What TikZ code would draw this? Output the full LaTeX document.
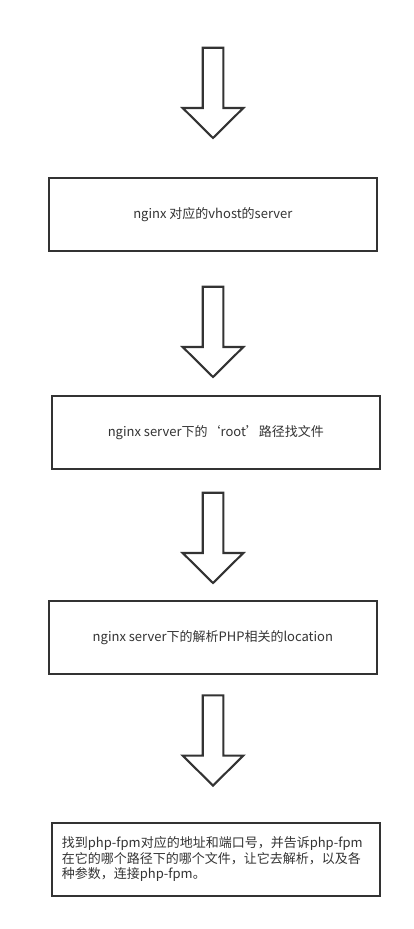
\documentclass[tikz,border=0pt]{standalone}
\usepackage{fontspec}
\newfontfamily\cjk{Noto Sans CJK SC}
\definecolor{inkgray}{HTML}{333333}

\begin{document}
\begin{tikzpicture}[x=1pt,y=-1pt,line width=2.1pt,draw=inkgray,
        stagebox/.style={draw, minimum width=328pt, minimum height=73pt, inner sep=0pt,
            font=\cjk\fontsize{13}{15.7}\selectfont, text=inkgray}]
        \useasboundingbox (0,0) rectangle (413,929);
        % block arrows between the stages
        \foreach \top in {47.7,286.7,492.7,695.3}
            \draw[line join=miter] (202.7,\top) -- (223.3,\top) -- (223.3,\top+60.3) -- (243.3,\top+60.3)
                -- (213,\top+90.3) -- (182.7,\top+60.3) -- (202.7,\top+60.3) -- cycle;
        \node (vhost) [stagebox] at (212.85,214.2) {nginx 对应的vhost的server};
        \node (root) [stagebox] at (215.85,432.5) {nginx server下的‘root’路径找文件};
        \node (location) [stagebox] at (212.85,637.2) {nginx server下的解析PHP相关的location};
        \node (fpm) [stagebox, align=left, text width=308pt, inner xsep=10pt, minimum width=328pt] at (215.85,859.2)
            {找到php-fpm对应的地址和端口号，并告诉php-fpm\\在它的哪个路径下的哪个文件，让它去解析，以及各\\种参数，连接php-fpm。};
    \end{tikzpicture}
\end{document}
